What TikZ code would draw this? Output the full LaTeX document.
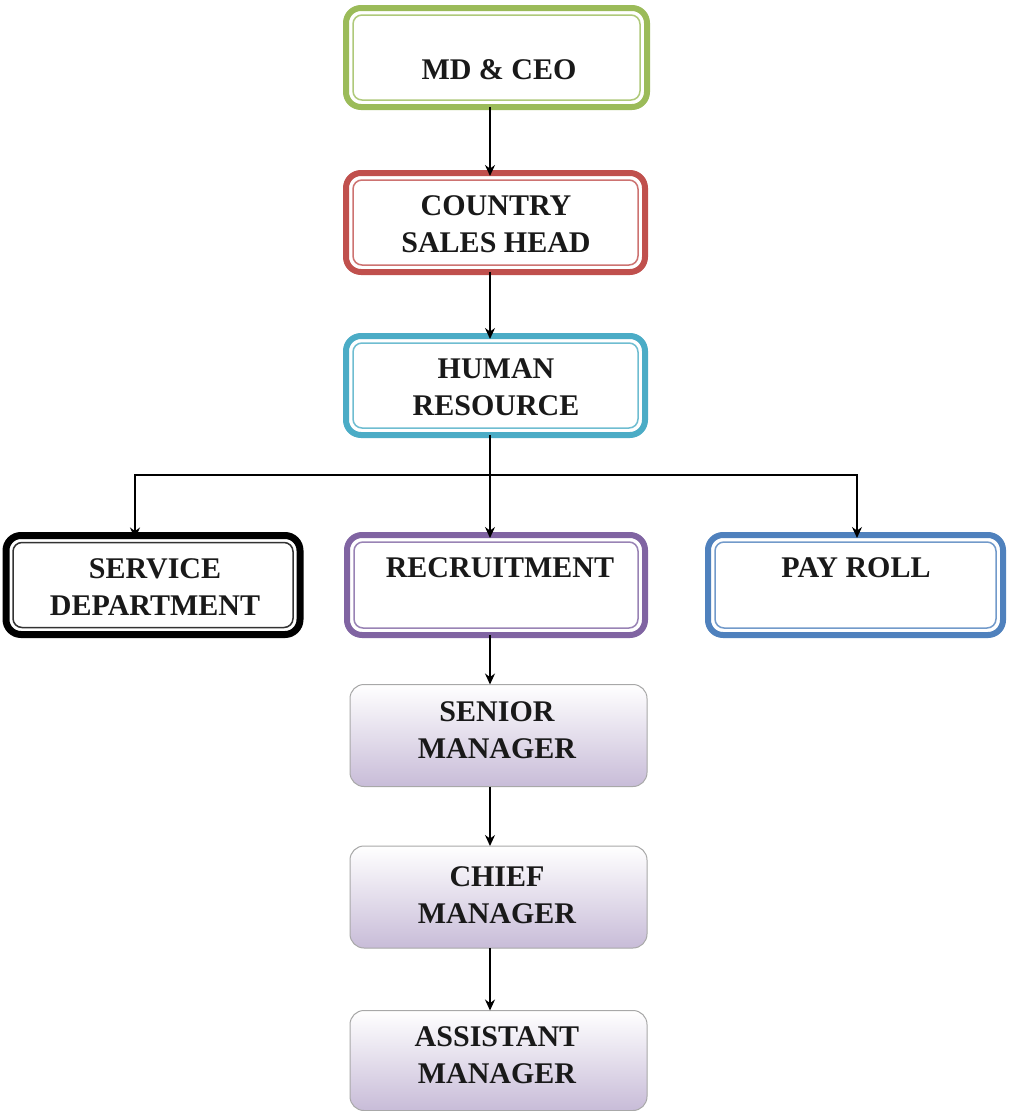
\documentclass[tikz,border=0pt]{standalone}
\usepackage{fontspec}
\setmainfont{Liberation Serif}
\usetikzlibrary{arrows.meta,positioning}
\definecolor{cgreen}{HTML}{9BBB59}
\definecolor{cred}{HTML}{C0504D}
\definecolor{ccyan}{HTML}{4BACC6}
\definecolor{cpurple}{HTML}{8064A2}
\definecolor{cblue}{HTML}{4F81BD}
\definecolor{clav}{HTML}{C8BCD8}
\definecolor{cgray}{HTML}{A8A8A8}
\tikzset{
  dblbox/.style={draw=#1, line width=6pt, rounded corners=15pt, fill=white, outer sep=0pt, inner sep=0pt},
  innerline/.style={draw=#1!80, line width=1.5pt, rounded corners=9pt},
  gradbox/.style={draw=cgray, line width=1pt, rounded corners=14pt, top color=white, bottom color=clav,
    outer sep=0pt, inner sep=0pt, minimum width=297pt, minimum height=102pt},
  lbl/.style={font=\bfseries\fontsize{30}{37}\selectfont, align=center, inner sep=0pt, text=black!90},
  arr/.style={draw=black, line width=1.5pt, -{Stealth[length=11pt,width=10pt]}}
}
\begin{document}
\begin{tikzpicture}[x=1pt,y=-1pt]
\useasboundingbox (0,0) rectangle (1009,1111);
\fill[white] (0,0) rectangle (1009,1111);
\coordinate (spine) at (490,0);
\coordinate (busL) at (135,475);
\coordinate (busR) at (857,475);
% boxes
\node[dblbox=cgreen, minimum width=301pt, minimum height=99pt] (md) at (496.5,57.5) {};
\node[dblbox=cred, minimum width=299pt, minimum height=99pt] (csh) at (495.5,222.5) {};
\node[dblbox=ccyan, minimum width=299pt, minimum height=99pt] (hr) at (495.5,385.5) {};
\node[dblbox=black, line width=7pt, minimum width=294pt, minimum height=99pt] (sd) at (153,585) {};
\node[dblbox=cpurple, minimum width=298pt, minimum height=100pt] (rc) at (496,585) {};
\node[dblbox=cblue, minimum width=295pt, minimum height=100pt] (pr) at (855.5,585) {};
\foreach \n/\c in {md/cgreen, csh/cred, hr/ccyan, sd/black, rc/cpurple, pr/cblue}
  \draw[innerline=\c] ([xshift=7pt,yshift=-7pt]\n.north west) rectangle ([xshift=-7pt,yshift=7pt]\n.south east);
\node[gradbox] (sm) at (498.5,735.5) {};
\node[gradbox] (cm) at (498.5,897) {};
\node[gradbox, minimum height=100pt] (am) at (498.5,1060.5) {};
% labels
\node[lbl] (mdt) at (499,70) {MD \& CEO};
\node[lbl] (csht) at (496,224) {COUNTRY\\SALES HEAD};
\node[lbl] (hrt) at (496,387) {HUMAN\\RESOURCE};
\node[lbl] (sdt) at (155,587) {SERVICE\\DEPARTMENT};
\node[lbl] (rct) at (500,568) {RECRUITMENT};
\node[lbl] (prt) at (856,568) {PAY ROLL};
\node[lbl] (smt) at (497,730) {SENIOR\\MANAGER};
\node[lbl] (cmt) at (497,895) {CHIEF\\MANAGER};
\node[lbl] (amt) at (497,1055) {ASSISTANT\\MANAGER};
% connectors
\draw[arr] (md.south -| spine) -- ([yshift=-3pt]csh.north -| spine);
\draw[arr] (csh.south -| spine) -- ([yshift=-3pt]hr.north -| spine);
\draw[arr] (hr.south -| spine) -- ([yshift=-3pt]rc.north -| spine);
\draw[arr] (hr.south -| spine) |- (busL) -- ([yshift=-3pt]sd.north -| busL);
\draw[arr] (hr.south -| spine) |- (busR) -- ([yshift=-3pt]pr.north -| busR);
\draw[arr] (rc.south -| spine) -- (sm.north -| spine);
\draw[arr] (sm.south -| spine) -- (cm.north -| spine);
\draw[arr] (cm.south -| spine) -- (am.north -| spine);
\end{tikzpicture}
\end{document}
